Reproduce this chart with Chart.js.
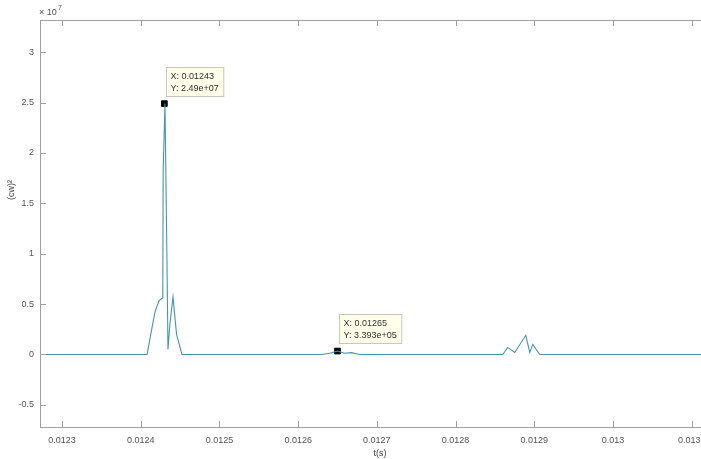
<!DOCTYPE html>
<html>
<head>
<meta charset="utf-8">
<script src="https://cdn.jsdelivr.net/npm/chart.js@4/dist/chart.umd.min.js"></script>
<style>
  html, body { margin: 0; padding: 0; background: #fff; overflow: hidden; }
  #wrap { width: 740px; height: 459px; }
</style>
</head>
<body>
<div id="wrap"><canvas id="cwChart" width="740" height="459"></canvas></div>
<script>
// time axis (s) and (cw)^2 values
const timeValues = [0.012272, 0.012408, 0.012418, 0.012423, 0.0124257, 0.012428, 0.0124285, 0.0124308,
  0.0124333, 0.0124346, 0.012437, 0.012441, 0.0124455, 0.0124524,
  0.01263, 0.01264, 0.01265, 0.012659, 0.012668, 0.012678,
  0.01286, 0.0128663, 0.0128752, 0.0128892, 0.0128943, 0.0128981, 0.012907, 0.013136];
const powerValues = [0, 0, 0.42e7, 0.53e7, 0.55e7, 0.56e7, 1.83e7, 2.49e7,
  0.94e7, 0.05e7, 0.3e7, 0.57e7, 0.2e7, 0,
  0, 0.012e7, 0.03393e7, 0.012e7, 0.018e7, 0,
  0, 0.07e7, 0.02e7, 0.19e7, 0.02e7, 0.1e7, 0, 0];

// data tips
const tipX = [0.01243, 0.01265];
const tipY = [2.49e7, 3.393e5];
const tipLabels = [['X: 0.01243', 'Y: 2.49e+07'], ['X: 0.01265', 'Y: 3.393e+05']];

// tick labels
const xTicks = [0.0123, 0.0124, 0.0125, 0.0126, 0.0127, 0.0128, 0.0129, 0.013, 0.0131];
const xTickLabels = ['0.0123', '0.0124', '0.0125', '0.0126', '0.0127', '0.0128', '0.0129', '0.013', '0.0131'];
const yTicks = [-0.5e7, 0, 0.5e7, 1e7, 1.5e7, 2e7, 2.5e7, 3e7];
const yTickLabels = ['-0.5', '0', '0.5', '1', '1.5', '2', '2.5', '3'];

const lineData = timeValues.map((t, i) => ({ x: t, y: powerValues[i] }));
const tipData = tipX.map((t, i) => ({ x: t, y: tipY[i] }));

const fontFamily = "'Liberation Sans', Arial, sans-serif";

// inward tick marks, box top line, exponent label, y title and data tip boxes
const matlabAxes = {
  id: 'matlabAxes',
  afterDraw(chart) {
    const ctx = chart.ctx;
    const area = chart.chartArea;
    const xs = chart.scales.x;
    const ys = chart.scales.y;
    ctx.save();
    ctx.strokeStyle = '#a0a0a0';
    ctx.lineWidth = 1;
    ctx.beginPath();
    ctx.moveTo(area.left, area.top + 0.5);
    ctx.lineTo(area.right, area.top + 0.5);
    xTicks.forEach(v => {
      const px = Math.round(xs.getPixelForValue(v)) + 0.5;
      ctx.moveTo(px, area.bottom);
      ctx.lineTo(px, area.bottom - 6);
      ctx.moveTo(px, area.top);
      ctx.lineTo(px, area.top + 6);
    });
    yTicks.forEach(v => {
      const py = Math.round(ys.getPixelForValue(v)) + 0.5;
      ctx.moveTo(area.left, py);
      ctx.lineTo(area.left + 6, py);
    });
    ctx.stroke();

    ctx.fillStyle = '#555';
    ctx.font = '9px ' + fontFamily;
    ctx.textAlign = 'left';
    ctx.textBaseline = 'bottom';
    ctx.fillText('\u00d7 10', area.left - 1, area.top - 3);
    ctx.font = '7px ' + fontFamily;
    ctx.fillText('7', area.left + 18, area.top - 8);

    // y axis title
    ctx.save();
    ctx.translate(12, 190);
    ctx.rotate(-Math.PI / 2);
    ctx.font = '9px ' + fontFamily;
    ctx.fillStyle = '#444';
    ctx.textAlign = 'center';
    ctx.textBaseline = 'middle';
    ctx.fillText('(cw)\u00b2', 0, 0);
    ctx.restore();

    const meta = chart.getDatasetMeta(1);
    ctx.font = '9px ' + fontFamily;
    ctx.textAlign = 'left';
    meta.data.forEach((pt, i) => {
      const lines = tipLabels[i];
      const w = Math.max(...lines.map(s => ctx.measureText(s).width)) + 9;
      const h = 29;
      const bx = Math.round(pt.x) + 2.5;
      const by = Math.round(pt.y) - 8 - h + 0.5;
      ctx.fillStyle = '#ffffea';
      ctx.fillRect(bx, by, w, h);
      ctx.strokeStyle = '#c8c8b8';
      ctx.strokeRect(bx, by, w, h);
      ctx.fillStyle = '#333';
      ctx.textBaseline = 'middle';
      ctx.fillText(lines[0], bx + 4, by + 9);
      ctx.fillText(lines[1], bx + 4, by + 21);
    });
    ctx.restore();
  }
};

const chart = new Chart(document.getElementById('cwChart').getContext('2d'), {
  type: 'scatter',
  data: {
    datasets: [{
      data: lineData,
      showLine: true,
      borderColor: '#4795ac',
      borderWidth: 1.1,
      pointRadius: 0,
      tension: 0
    }, {
      data: tipData,
      showLine: false,
      pointStyle: 'rect',
      pointRadius: 4,
      backgroundColor: '#000',
      borderColor: '#000'
    }]
  },
  options: {
    responsive: false,
    animation: false,
    layout: { padding: { top: 20, right: 20, left: 0, bottom: 0 } },
    plugins: { legend: { display: false }, tooltip: { enabled: false } },
    scales: {
      x: {
        type: 'linear',
        min: 0.012272,
        max: 0.013136,
        afterBuildTicks: scale => { scale.ticks = xTicks.map(v => ({ value: v })); },
        afterFit: scale => { scale.height = 32; },
        grid: { display: false, drawTicks: false },
        border: { color: '#a0a0a0', width: 1 },
        ticks: {
          padding: 8,
          color: '#555',
          font: { family: fontFamily, size: 9 },
          maxRotation: 0,
          autoSkip: false,
          callback: (v, i) => xTickLabels[i]
        },
        title: {
          display: true,
          text: 't(s)',
          color: '#444',
          font: { family: fontFamily, size: 9 },
          padding: { top: -3, bottom: 0 }
        }
      },
      y: {
        min: -0.72e7,
        max: 3.32e7,
        afterBuildTicks: scale => { scale.ticks = yTicks.map(v => ({ value: v })); },
        afterFit: scale => { scale.width = 40; },
        grid: { display: false, drawTicks: false },
        border: { color: '#a0a0a0', width: 1 },
        ticks: {
          padding: 6,
          color: '#555',
          font: { family: fontFamily, size: 9 },
          callback: (v, i) => yTickLabels[i]
        }
      }
    }
  },
  plugins: [matlabAxes]
});
</script>
</body>
</html>
